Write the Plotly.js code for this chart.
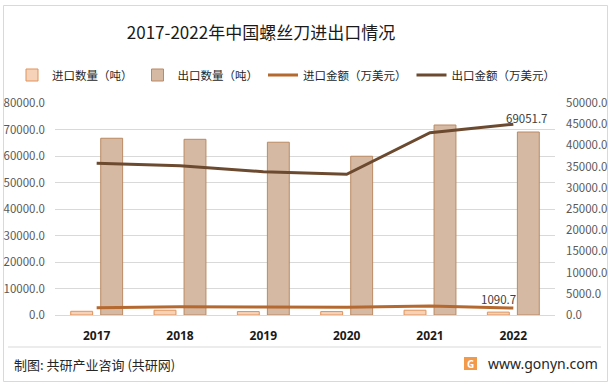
<!DOCTYPE html>
<html>
<head>
<meta charset="utf-8">
<script src="https://cdn.plot.ly/plotly-3.0.1.min.js"></script>
<style>html,body{margin:0;padding:0;background:#fff;}#chart{width:612px;height:386px;}</style>
</head>
<body>
<div id="chart"></div>
<script>
const years = ['2017', '2018', '2019', '2020', '2021', '2022'];
const importQty = [1400, 1800, 1300, 1300, 1800, 1090.7];
const exportQty = [66700, 66300, 65200, 59900, 71700, 69051.7];
const importAmt = [1700, 1950, 1900, 1850, 2100, 1650];
const exportAmt = [35800, 35200, 33800, 33200, 43000, 45000];
const labelIndex = 5; // 2022 bars carry value labels

const FONT = '"Noto Sans CJK SC", "Noto Sans", sans-serif';
const L = 55, R = 555, T = 103, B = 315;
const px = x => (x - L) / (R - L);
const py = y => (B - y) / (B - T);

const traces = [
  {type: 'bar', name: '进口数量（吨）', x: years, y: importQty,
   marker: {color: '#f5d2b8', line: {color: '#e0935a', width: 1}}},
  {type: 'bar', name: '出口数量（吨）', x: years, y: exportQty,
   marker: {color: '#d6b9a3', line: {color: '#bb8962', width: 1}}},
  {type: 'scatter', mode: 'lines', name: '进口金额（万美元）', x: years, y: importAmt, yaxis: 'y2',
   line: {color: '#b5692f', width: 3}},
  {type: 'scatter', mode: 'lines', name: '出口金额（万美元）', x: years, y: exportAmt, yaxis: 'y2',
   line: {color: '#6b4a30', width: 3}}
];

const layout = {
  width: 612, height: 386,
  margin: {l: L, r: 612 - R, t: T, b: 386 - B},
  paper_bgcolor: '#ffffff', plot_bgcolor: '#ffffff',
  font: {family: FONT, color: '#595959'},
  title: {text: '2017-2022年中国螺丝刀进出口情况', x: 261/612, xanchor: 'center', y: 1 - 33/386, yanchor: 'middle',
          font: {size: 17, color: '#1a1a1a', family: FONT}},
  showlegend: true,
  legend: {orientation: 'h', x: px(12), xanchor: 'left', y: py(75), yanchor: 'middle',
           font: {size: 11.5, color: '#262626', family: FONT}, itemwidth: 30, tracegroupgap: 0},
  barmode: 'group', bargap: 0.28, bargroupgap: 0.27,
  xaxis: {type: 'category', categoryarray: years, range: [-0.5, years.length - 0.5], autorange: false,
          showgrid: false, showline: true, linecolor: '#d9d9d9', linewidth: 1,
          ticks: '', tickfont: {size: 12, color: '#1a1a1a', family: '"Noto Sans", sans-serif', weight: 'bold'},
          ticklabelstandoff: 10},
  yaxis: {range: [0, 80000], dtick: 10000, tickformat: '.1f', showgrid: true, gridcolor: '#d9d9d9', gridwidth: 1,
          zeroline: false, showline: false, ticks: '', tickfont: {size: 11.5, color: '#595959', family: FONT},
          ticklabelstandoff: 9},
  yaxis2: {range: [0, 50000], dtick: 5000, tickformat: '.1f', overlaying: 'y', side: 'right', showgrid: false,
           zeroline: false, showline: false, ticks: '', tickfont: {size: 11.5, color: '#595959', family: FONT},
           ticklabelstandoff: 10},
  shapes: [
    {type: 'rect', xref: 'paper', yref: 'paper', x0: px(3.5), x1: px(607.5), y0: py(5.5), y1: py(381.5),
     line: {color: '#d9d9d9', width: 1}, layer: 'below'},
    {type: 'line', xref: 'paper', yref: 'paper', x0: px(8), x1: px(601), y0: py(347), y1: py(347),
     line: {color: '#d9d9d9', width: 1}},
    {type: 'rect', xref: 'paper', yref: 'paper', x0: px(464), x1: px(477), y0: py(357), y1: py(370),
     fillcolor: '#f29a4a', line: {width: 0}}
  ],
  annotations: [
    {xref: 'x', yref: 'y', x: labelIndex, y: importQty[labelIndex], xshift: -15, yshift: 13,
     yanchor: 'middle', xanchor: 'center', showarrow: false, text: importQty[labelIndex].toFixed(1),
     font: {size: 11.5, color: '#404040', family: FONT}},
    {xref: 'x', yref: 'y', x: labelIndex, y: exportQty[labelIndex], xshift: 14, yshift: 14,
     yanchor: 'middle', xanchor: 'center', showarrow: false, text: exportQty[labelIndex].toFixed(1),
     font: {size: 11.5, color: '#404040', family: FONT}},
    {xref: 'paper', yref: 'paper', x: px(12), y: py(364), xanchor: 'left', yanchor: 'middle', showarrow: false,
     text: '制图: 共研产业咨询 (共研网)', font: {size: 13, color: '#262626', family: FONT}},
    {xref: 'paper', yref: 'paper', x: px(486), y: py(363), xanchor: 'left', yanchor: 'middle', showarrow: false,
     text: 'www.gonyn.com', font: {size: 14, color: '#262626', family: '"Noto Sans", sans-serif'}},
    {xref: 'paper', yref: 'paper', x: px(470.5), y: py(363.5), xanchor: 'center', yanchor: 'middle', showarrow: false,
     text: '<b>G</b>', font: {size: 10, color: '#ffffff', family: '"Noto Sans", sans-serif'}}
  ]
};

Plotly.newPlot('chart', traces, layout, {displayModeBar: false, staticPlot: true});
</script>
</body>
</html>
